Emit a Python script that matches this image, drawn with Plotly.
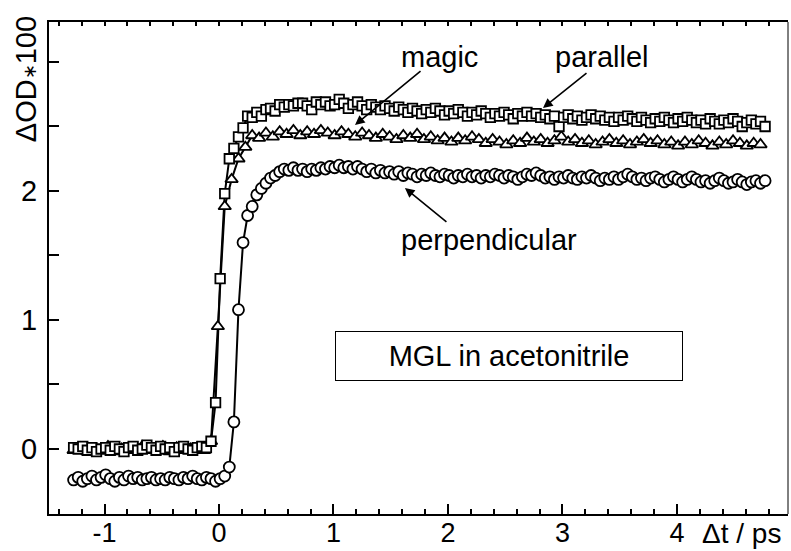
import plotly.graph_objects as go

# ---- data ----
delay_a = [-1.27,-1.23,-1.19,-1.15,-1.11,-1.07,-1.03,-0.99,-0.95,-0.91,
           -0.87,-0.83,-0.79,-0.75,-0.71,-0.67,-0.63,-0.59,-0.55,-0.51,
           -0.47,-0.43,-0.39,-0.35,-0.31,-0.27,-0.23,-0.19,-0.15,-0.11,
           -0.07,-0.03,0.01,0.05,0.09,0.13,0.17,0.21,0.25,0.29,
           0.33,0.37,0.41,0.45,0.49,0.53,0.57,0.61,0.65,0.69,
           0.73,0.77,0.81,0.85,0.89,0.93,0.97,1.01,1.05,1.09,
           1.13,1.17,1.21,1.25,1.29,1.33,1.37,1.41,1.45,1.49,
           1.53,1.57,1.61,1.65,1.69,1.73,1.77,1.81,1.85,1.89,
           1.93,1.97,2.01,2.05,2.09,2.13,2.17,2.21,2.25,2.29,
           2.33,2.37,2.41,2.45,2.49,2.53,2.57,2.61,2.65,2.69,
           2.73,2.77,2.81,2.85,2.89,2.93,2.97,3.01,3.05,3.09,
           3.13,3.17,3.21,3.25,3.29,3.33,3.37,3.41,3.45,3.49,
           3.53,3.57,3.61,3.65,3.69,3.73,3.77,3.81,3.85,3.89,
           3.93,3.97,4.01,4.05,4.09,4.13,4.17,4.21,4.25,4.29,
           4.33,4.37,4.41,4.45,4.49,4.53,4.57,4.61,4.65,4.69,
           4.73,4.77]

delay_b = [-1.27,-1.21,-1.15,-1.09,-1.03,-0.97,-0.91,-0.85,-0.79,-0.73,
           -0.67,-0.61,-0.55,-0.49,-0.43,-0.37,-0.31,-0.25,-0.19,-0.13,
           -0.07,-0.01,0.05,0.11,0.17,0.23,0.29,0.35,0.41,0.47,
           0.53,0.59,0.65,0.71,0.77,0.83,0.89,0.95,1.01,1.07,
           1.13,1.19,1.25,1.31,1.37,1.43,1.49,1.55,1.61,1.67,
           1.73,1.79,1.85,1.91,1.97,2.03,2.09,2.15,2.21,2.27,
           2.33,2.39,2.45,2.51,2.57,2.63,2.69,2.75,2.81,2.87,
           2.93,2.99,3.05,3.11,3.17,3.23,3.29,3.35,3.41,3.47,
           3.53,3.59,3.65,3.71,3.77,3.83,3.89,3.95,4.01,4.07,
           4.13,4.19,4.25,4.31,4.37,4.43,4.49,4.55,4.61,4.67,
           4.73]

parallel = [0.01,0.00,0.02,-0.01,0.01,-0.02,0.00,0.01,-0.01,0.02,
            0.00,-0.02,0.01,0.02,-0.01,0.00,0.03,0.01,-0.01,0.02,
            0.00,0.01,-0.02,0.01,0.02,0.00,-0.01,0.01,0.02,0.01,
            0.06,0.36,1.32,1.98,2.25,2.33,2.42,2.49,2.58,2.57,
            2.61,2.58,2.63,2.64,2.62,2.67,2.65,2.67,2.66,2.68,
            2.68,2.66,2.63,2.69,2.67,2.69,2.66,2.67,2.71,2.68,
            2.64,2.67,2.69,2.66,2.63,2.67,2.65,2.63,2.66,2.64,
            2.62,2.65,2.63,2.61,2.64,2.62,2.60,2.63,2.61,2.64,
            2.62,2.59,2.62,2.60,2.63,2.61,2.58,2.61,2.59,2.62,
            2.60,2.57,2.60,2.58,2.61,2.59,2.56,2.60,2.58,2.61,
            2.58,2.60,2.57,2.59,2.56,2.58,2.50,2.57,2.59,2.56,
            2.58,2.55,2.57,2.59,2.56,2.58,2.55,2.57,2.54,2.57,
            2.55,2.58,2.56,2.54,2.57,2.55,2.53,2.56,2.54,2.57,
            2.55,2.53,2.56,2.54,2.57,2.55,2.53,2.55,2.52,2.56,
            2.54,2.52,2.55,2.53,2.56,2.54,2.50,2.53,2.55,2.52,
            2.54,2.50]

perpendicular = [-0.24,-0.22,-0.25,-0.23,-0.21,-0.24,-0.22,-0.20,-0.23,-0.25,
                 -0.22,-0.24,-0.21,-0.23,-0.22,-0.24,-0.23,-0.22,-0.24,-0.23,
                 -0.24,-0.22,-0.23,-0.24,-0.22,-0.23,-0.21,-0.23,-0.24,-0.22,
                 -0.23,-0.25,-0.23,-0.21,-0.14,0.21,1.08,1.60,1.81,1.88,
                 1.97,2.02,2.06,2.10,2.12,2.15,2.17,2.16,2.18,2.16,
                 2.17,2.15,2.17,2.16,2.18,2.17,2.19,2.18,2.20,2.18,
                 2.19,2.17,2.19,2.17,2.15,2.17,2.14,2.16,2.14,2.15,
                 2.13,2.15,2.12,2.14,2.13,2.11,2.13,2.12,2.14,2.12,
                 2.11,2.13,2.12,2.10,2.12,2.11,2.13,2.11,2.12,2.10,
                 2.12,2.11,2.13,2.12,2.10,2.12,2.11,2.09,2.11,2.13,
                 2.12,2.14,2.12,2.10,2.11,2.09,2.11,2.10,2.12,2.10,
                 2.09,2.11,2.10,2.12,2.10,2.08,2.10,2.09,2.11,2.09,
                 2.11,2.13,2.11,2.09,2.10,2.08,2.10,2.11,2.09,2.07,
                 2.09,2.11,2.09,2.07,2.09,2.11,2.09,2.07,2.08,2.06,
                 2.08,2.10,2.08,2.06,2.07,2.09,2.07,2.05,2.07,2.08,
                 2.06,2.08]

magic = [-0.01,0.01,-0.02,0.00,-0.01,0.02,-0.02,0.00,0.01,-0.01,
         0.02,-0.01,0.00,0.02,-0.02,0.01,-0.01,0.00,0.01,-0.01,
         0.06,0.95,1.88,2.09,2.25,2.34,2.43,2.41,2.45,2.42,
         2.46,2.44,2.47,2.43,2.46,2.44,2.47,2.45,2.43,2.46,
         2.44,2.42,2.45,2.43,2.41,2.44,2.42,2.40,2.43,2.41,
         2.44,2.40,2.42,2.39,2.41,2.38,2.41,2.39,2.42,2.40,
         2.37,2.40,2.38,2.36,2.39,2.37,2.41,2.38,2.40,2.37,
         2.39,2.42,2.38,2.40,2.37,2.39,2.36,2.38,2.40,2.37,
         2.39,2.36,2.38,2.40,2.37,2.39,2.36,2.38,2.35,2.38,
         2.36,2.39,2.37,2.35,2.38,2.36,2.39,2.37,2.35,2.37,
         2.36]

x_tick_vals = [-1, 0, 1, 2, 3, 4]
x_tick_text = ["-1", "0", "1", "2", "3", "4"]
y_tick_vals = [0, 0.5, 1, 1.5, 2, 2.5, 3]
y_tick_text = ["0", "", "1", "", "2", "", ""]

FONT = "Arial, Liberation Sans, sans-serif"
FS = 29
FSX = 27

fig = go.Figure()

series = [
    (delay_a, perpendicular, "circle", 11),
    (delay_b, magic, "triangle-up", 11),
    (delay_a, parallel, "square", 9.5),
]

# lines first (kept underneath all markers)
for xs, ys, sym, sz in series:
    fig.add_trace(go.Scatter(x=xs, y=ys, mode="lines",
                             line=dict(color="black", width=2),
                             showlegend=False, hoverinfo="skip"))
for xs, ys, sym, sz in series:
    fig.add_trace(go.Scatter(x=xs, y=ys, mode="markers",
                             marker=dict(symbol=sym, size=sz, color="white",
                                         line=dict(color="black", width=1.8)),
                             showlegend=False, hoverinfo="skip"))

# helper trace for top axis ticks
fig.add_trace(go.Scatter(x=[0], y=[0], xaxis="x2", mode="markers",
                         marker=dict(opacity=0), showlegend=False, hoverinfo="skip"))

XR = [-1.485, 4.97]
YR = [-0.504, 3.31]

fig.update_layout(
    width=791, height=551,
    margin=dict(l=49, r=3, t=22, b=37),
    paper_bgcolor="white", plot_bgcolor="white",
    font=dict(family=FONT, size=FS, color="black"),
    xaxis=dict(range=XR, showgrid=False, zeroline=False, automargin=False,
               showline=True, linecolor="black", linewidth=2,
               tickmode="array", tickvals=x_tick_vals, ticktext=x_tick_text,
               ticks="inside", ticklen=10, tickwidth=1.5, tickcolor="black",
               minor=dict(tickmode="linear", tick0=0, dtick=0.2, ticks="inside",
                          ticklen=5, tickwidth=1.5, tickcolor="black"),
               tickfont=dict(family=FONT, size=FSX), ticklabelstandoff=-6),
    xaxis2=dict(range=XR, overlaying="x", side="top", showgrid=False, zeroline=False,
                automargin=False,
                showline=True, linecolor="black", linewidth=1.5,
                tickmode="linear", tick0=0, dtick=0.2, ticks="inside",
                ticklen=4, tickwidth=1.5, tickcolor="black", showticklabels=False),
    yaxis=dict(range=YR, showgrid=False, zeroline=False, automargin=False,
               showline=True, linecolor="black", linewidth=2,
               tickmode="array", tickvals=y_tick_vals, ticktext=y_tick_text,
               ticks="inside", ticklen=10, tickwidth=1.5, tickcolor="black",
               tickfont=dict(family=FONT, size=FS), ticklabelstandoff=4),
    shapes=[dict(type="line", xref="paper", yref="paper", x0=1, x1=1, y0=0, y1=1,
                 line=dict(color="black", width=1))],
)

ann = []
# labels
ann.append(dict(text="magic", x=1.93, y=3.04, xref="x", yref="y", showarrow=False,
                font=dict(size=FS), xanchor="center", yanchor="middle"))
ann.append(dict(text="parallel", x=3.345, y=3.04, xref="x", yref="y", showarrow=False,
                font=dict(size=FS), xanchor="center", yanchor="middle"))
ann.append(dict(text="perpendicular", x=2.358, y=1.62, xref="x", yref="y", showarrow=False,
                font=dict(size=FS), xanchor="center", yanchor="middle"))
# arrows
for hx, hy, ax, ay in [(1.188, 2.512, 67, -55), (2.83, 2.643, 45, -36), (1.624, 2.023, 43, 35)]:
    ann.append(dict(text="", x=hx, y=hy, xref="x", yref="y", showarrow=True,
                    ax=ax, ay=ay, arrowhead=2, arrowsize=1.2, arrowwidth=1.6,
                    arrowcolor="black"))
# boxed label
ann.append(dict(text="MGL in acetonitrile", x=2.534, y=0.721, xref="x", yref="y",
                showarrow=False, font=dict(size=FS), bordercolor="black", borderwidth=1,
                borderpad=3, width=340, height=42, bgcolor="white",
                xanchor="center", yanchor="middle"))
# axis titles
ann.append(dict(text="\u0394t / ps", x=4.56, y=-0.039, xref="x", yref="paper",
                showarrow=False, font=dict(size=28), xanchor="center", yanchor="middle"))
ann.append(dict(text="\u0394OD<span style='font-size:18px'>\u2217</span>100",
                x=-0.031, y=0.884, xref="paper", yref="paper",
                xanchor="center", yanchor="middle",
                showarrow=False, font=dict(size=FS), textangle=-90))
fig.update_layout(annotations=ann)

fig.write_html("out.html")
